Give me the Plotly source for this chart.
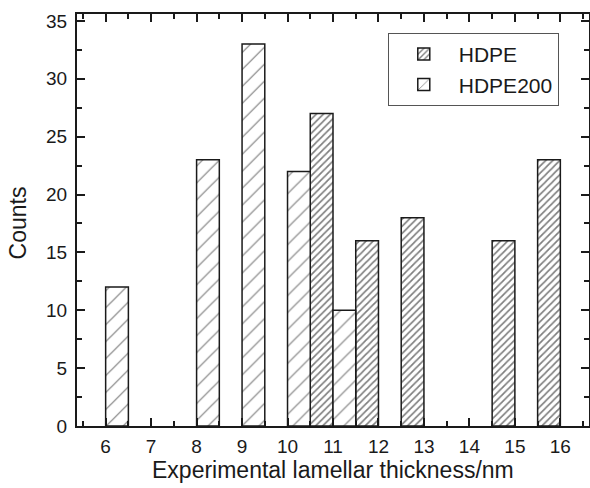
import plotly.graph_objects as go

# Data
hdpe_x = [11, 12, 13, 15, 16]
hdpe_counts = [27, 16, 18, 16, 23]
hdpe200_x = [6, 8, 9, 10, 11]
hdpe200_counts = [12, 23, 33, 22, 10]
x_ticks = list(range(6, 17))
y_ticks = [0, 5, 10, 15, 20, 25, 30, 35]

FONT = "Arial, Liberation Sans, sans-serif"
INK = "#1a1a1a"

fig = go.Figure()
fig.add_trace(go.Bar(
    x=hdpe_x, y=hdpe_counts, name="HDPE",
    width=0.5, offset=-0.5,
    marker=dict(color="white",
                line=dict(color=INK, width=1.5),
                pattern=dict(shape="/", size=5, solidity=0.34,
                             fgcolor="#000", bgcolor="white", fillmode="overlay")),
))
fig.add_trace(go.Bar(
    x=hdpe200_x, y=hdpe200_counts, name="HDPE200",
    width=0.5, offset=0,
    marker=dict(color="white",
                line=dict(color=INK, width=1.5),
                pattern=dict(shape="/", size=12, solidity=0.1,
                             fgcolor="#000", bgcolor="white", fillmode="overlay")),
))

axis_common = dict(
    showline=True, linecolor=INK, linewidth=2, mirror="allticks",
    ticks="inside", ticklen=8, tickwidth=1.5, tickcolor=INK,
    showgrid=False, zeroline=False, automargin=False,
    tickfont=dict(family=FONT, size=19, color=INK),
)

fig.update_layout(
    width=590, height=488,
    margin=dict(l=77, r=1, t=14, b=62),
    paper_bgcolor="white", plot_bgcolor="white",
    barmode="overlay",
    font=dict(family=FONT, color=INK),
    xaxis=dict(range=[5.37, 16.63], tickvals=x_ticks, ticklabelstandoff=2,
               minor=dict(dtick=0.5, tick0=0.5, ticks="inside", ticklen=5, tickwidth=1.5, tickcolor=INK),
               **axis_common),
    yaxis=dict(range=[0, 35.6], tickvals=y_ticks, ticklabelstandoff=4,
               minor=dict(dtick=2.5, tick0=0, ticks="inside", ticklen=5, tickwidth=1.5, tickcolor=INK),
               **axis_common),
    legend=dict(x=0.607, y=0.954, xanchor="left", yanchor="top",
                bgcolor="white", bordercolor="#555", borderwidth=1,
                font=dict(family=FONT, size=21, color=INK),
                itemwidth=60, tracegroupgap=0),
    showlegend=True,
    annotations=[
        dict(text="Experimental lamellar thickness/nm", xref="paper", yref="paper",
             x=0.5, y=-0.107, xanchor="center", yanchor="middle", showarrow=False,
             font=dict(family=FONT, size=23, color=INK)),
        dict(text="Counts", xref="paper", yref="paper", textangle=-90,
             x=-0.115, y=0.492, xanchor="center", yanchor="middle", showarrow=False,
             font=dict(family=FONT, size=23, color=INK)),
    ],
)

fig.write_html(
    "out.html",
    config={"displayModeBar": False},
    post_script="document.body.style.margin='0';document.body.style.overflow='hidden';",
)
